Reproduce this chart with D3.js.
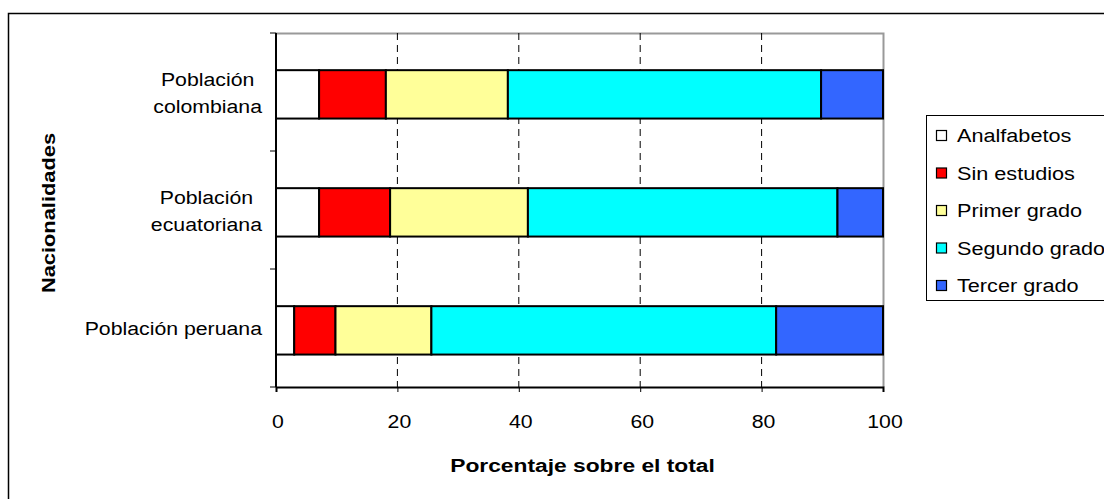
<!DOCTYPE html>
<html><head><meta charset="utf-8">
<script src="https://cdn.jsdelivr.net/npm/d3@7"></script>
<style>body{margin:0;background:#fff}svg{display:block;font-family:"Liberation Sans",Arial,sans-serif}</style>
</head><body><svg id="c" width="1104" height="499"></svg>
<script>
const categories = ["Población colombiana","Población ecuatoriana","Población peruana"];
const categoryLines = [["Población","colombiana"],["Población","ecuatoriana"],["Población peruana"]];
const seriesNames = ["Analfabetos","Sin estudios","Primer grado","Segundo grado","Tercer grado"];
const seriesColors = ["#FFFFFF","#FF0000","#FFFF99","#00FFFF","#3366FF"];
const analfabetos = [7.1, 7.1, 3.0];
const sinEstudios = [11.0, 11.7, 6.8];
const primerGrado = [20.1, 22.7, 15.8];
const segundoGrado = [51.6, 51.0, 56.8];
const tercerGrado = [10.2, 7.5, 17.6];
const xTicks = [0,20,40,60,80,100];
const xTitle = "Porcentaje sobre el total";
const yTitle = "Nacionalidades";

const svg = d3.select("#c");
const L=276, R=883, T=33, B=387;
const SX = 1.12; // horizontal stretch of text, as in the reference rendering

function addText(parent, str, x, y, opts={}) {
  const g = parent.append("g").attr("transform",
    `translate(${x},${y})` + (opts.rotate ? ` rotate(${opts.rotate})` : "") + ` scale(${opts.sx||SX},1)`);
  const t = g.append("text").text(str).attr("x",0).attr("y",0)
    .attr("font-size",opts.size||19).attr("fill","#000")
    .attr("text-anchor",opts.anchor||"start");
  if (opts.bold) t.attr("font-weight","bold");
  return t;
}

// outer border
svg.append("rect").attr("x",8.5).attr("y",13.5).attr("width",1110).attr("height",500)
  .attr("fill","none").attr("stroke","#000").attr("stroke-width",1.5);

const x = d3.scaleLinear().domain([0,100]).range([L,R]);
const y = d3.scaleBand().domain(categories).range([T,B]).padding(0);

const table = categories.map((c,i)=>({cat:c, Analfabetos:analfabetos[i], "Sin estudios":sinEstudios[i],
  "Primer grado":primerGrado[i], "Segundo grado":segundoGrado[i], "Tercer grado":tercerGrado[i]}));
const stacked = d3.stack().keys(seriesNames)(table);

// plot border (gray top/right)
svg.append("path").attr("d",`M${L},${T+0.5}H${R+0.5}V${B}`).attr("fill","none").attr("stroke","#999").attr("stroke-width",2);

// gridlines
svg.append("g").selectAll("line").data(xTicks.filter(t=>t>0&&t<100)).join("line")
  .attr("x1",d=>x(d)).attr("x2",d=>x(d)).attr("y1",T).attr("y2",B)
  .attr("stroke","#000").attr("stroke-dasharray","7,5").attr("stroke-width",1);

// bars
const bw = y.bandwidth();
svg.append("g").selectAll("g").data(stacked).join("g")
  .attr("fill",(d,i)=>seriesColors[i])
  .selectAll("rect").data(d=>d).join("rect")
  .attr("x",d=>x(d[0])).attr("width",d=>x(d[1])-x(d[0]))
  .attr("y",d=>y(d.data.cat)+bw*0.315).attr("height",bw*0.41)
  .attr("stroke","#000").attr("stroke-width",2);

// x axis
const xa = svg.append("g").attr("transform",`translate(0,${B})`)
  .call(d3.axisBottom(x).tickValues(xTicks).tickSize(5).tickFormat(""));
xa.select(".domain").attr("stroke","#000").attr("stroke-width",2);
xa.selectAll(".tick line").attr("stroke","#000");
xTicks.forEach(t=>addText(svg, String(t), x(t)+2, 428, {anchor:"middle"}));

// y axis
const yb = d3.range(categories.length+1).map(i=>T+i*bw);
svg.append("line").attr("x1",L).attr("x2",L).attr("y1",T).attr("y2",B).attr("stroke","#000").attr("stroke-width",2);
svg.append("g").selectAll("line").data(yb).join("line")
  .attr("x1",L-6).attr("x2",L).attr("y1",d=>d).attr("y2",d=>d).attr("stroke","#000");

// category labels
categories.forEach((c,i)=>{
  const lines = categoryLines[i];
  const cy = y(c)+bw/2;
  const texts = lines.map((ln,j)=>addText(svg, ln, 0, cy + (j-(lines.length-1)/2)*27 + 7, {anchor:"middle"}));
  const maxW = d3.max(texts.map(t=>t.node().getComputedTextLength()))*SX;
  const cx = 262 - maxW/2;
  texts.forEach((t,j)=>{
    const g = d3.select(t.node().parentNode);
    g.attr("transform", `translate(${cx},${cy + (j-(lines.length-1)/2)*27 + 7}) scale(${SX},1)`);
  });
});

// titles
addText(svg, xTitle, (L+R)/2+3, 472, {anchor:"middle", bold:true, size:19, sx:1.2});
addText(svg, yTitle, 55, 213, {anchor:"middle", bold:true, size:19, sx:1.15, rotate:-90});

// legend
const lg = svg.append("g");
lg.append("rect").attr("x",926.5).attr("y",115.5).attr("width",200).attr("height",185)
  .attr("fill","#fff").attr("stroke","#000").attr("stroke-width",1);
const ly = d3.scalePoint().domain(seriesNames).range([135.5,285.5]);
seriesNames.forEach((s,i)=>{
  lg.append("rect").attr("x",936.5).attr("y",ly(s)-5).attr("width",10).attr("height",10)
    .attr("fill",seriesColors[i]).attr("stroke","#000").attr("stroke-width",1.2);
  addText(lg, s, 957, ly(s)+6.5, {size:19, sx:1.14});
});
</script></body></html>
